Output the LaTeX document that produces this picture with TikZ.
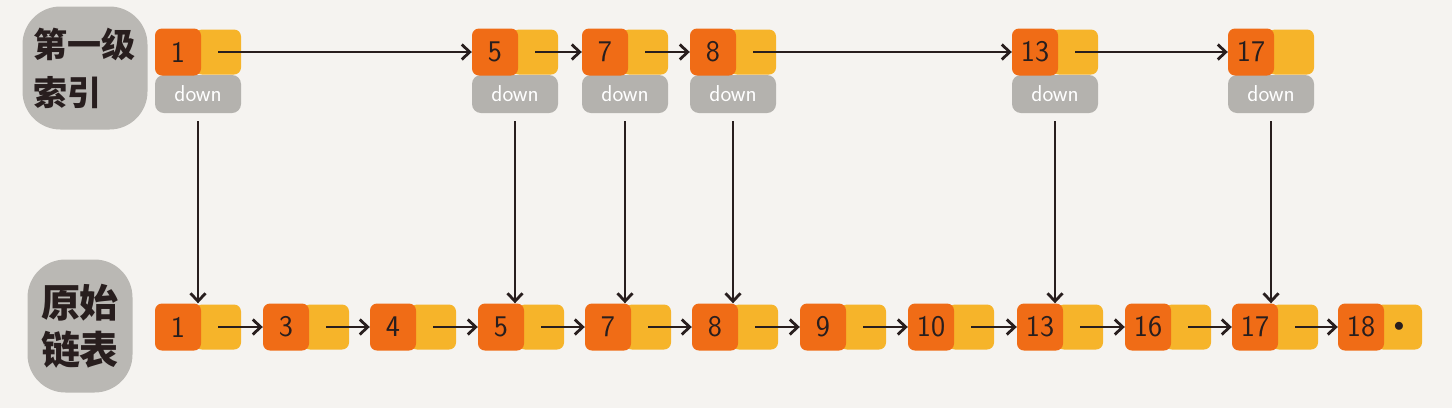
\documentclass[tikz,border=0pt]{standalone}
\usepackage{fontspec}
\newfontfamily\cjkfont{Noto Sans CJK SC}
\usetikzlibrary{arrows.meta}
\definecolor{keyorange}{RGB}{240,108,22}
\definecolor{nextyellow}{RGB}{246,180,42}
\definecolor{downgrey}{RGB}{180,178,174}
\definecolor{blobgrey}{RGB}{186,184,180}
\definecolor{paper}{RGB}{245,243,240}
\definecolor{ink}{RGB}{40,30,30}

\begin{document}
\begin{tikzpicture}[x=1pt,y=-1pt,
    keybox/.style={rectangle,rounded corners=7pt,fill=keyorange,minimum width=46pt,minimum height=47pt,inner sep=0pt,text=ink,font=\sffamily\fontsize{30}{30}\selectfont},
    nextbox/.style={rectangle,rounded corners=7pt,fill=nextyellow,minimum width=46pt,minimum height=45pt,inner sep=0pt,text=ink},
    downbox/.style={rectangle,rounded corners=9pt,fill=downgrey,minimum width=86pt,minimum height=38pt,inner sep=0pt,text=white,font=\sffamily\fontsize{23}{23}\selectfont},
    blob/.style={rectangle,rounded corners=38pt,fill=blobgrey,inner sep=0pt,align=left,text=ink},
    link/.style={draw=ink,line width=2.8pt,-{Straight Barb[length=8pt,width=15pt]}}]

    \fill[paper] (0,0) rectangle (1452,408);

    % labels on the left
    \node[blob,minimum width=125pt,minimum height=123pt,font=\cjkfont\bfseries\fontsize{34}{48}\selectfont] (lvl1) at (85,68) {第一级\\索引};
    \node[blob,minimum width=105pt,minimum height=133pt,font=\cjkfont\bfseries\fontsize{39}{47}\selectfont] (raw) at (80,326) {原始\\链表};

    % first-level index
    \node[downbox] (down1) at (198,94) {down};
    \node[downbox] (down5) at (515,94) {down};
    \node[downbox] (down7) at (625,94) {down};
    \node[downbox] (down8) at (733,94) {down};
    \node[downbox] (down13) at (1055,94) {down};
    \node[downbox] (down17) at (1271,94) {down};

    \node[nextbox] (top1n) at (218,52) {};
    \node[keybox] (top1) at (178,52) {1};
    \node[nextbox] (top5n) at (535,52) {};
    \node[keybox] (top5) at (495,52) {5};
    \node[nextbox] (top7n) at (645,52) {};
    \node[keybox] (top7) at (605,52) {7};
    \node[nextbox] (top8n) at (753,52) {};
    \node[keybox] (top8) at (713,52) {8};
    \node[nextbox] (top13n) at (1075,52) {};
    \node[keybox] (top13) at (1035,52) {13};
    \node[nextbox] (top17n) at (1291,52) {};
    \node[keybox] (top17) at (1251,52) {17};

    % original linked list
    \node[nextbox] (raw1n) at (218,327) {};
    \node[keybox] (raw1) at (178,327) {1};
    \node[nextbox] (raw3n) at (326,327) {};
    \node[keybox] (raw3) at (286,327) {3};
    \node[nextbox] (raw4n) at (433,327) {};
    \node[keybox] (raw4) at (393,327) {4};
    \node[nextbox] (raw5n) at (541,327) {};
    \node[keybox] (raw5) at (501,327) {5};
    \node[nextbox] (raw7n) at (648,327) {};
    \node[keybox] (raw7) at (608,327) {7};
    \node[nextbox] (raw8n) at (755,327) {};
    \node[keybox] (raw8) at (715,327) {8};
    \node[nextbox] (raw9n) at (863,327) {};
    \node[keybox] (raw9) at (823,327) {9};
    \node[nextbox] (raw10n) at (971,327) {};
    \node[keybox] (raw10) at (931,327) {10};
    \node[nextbox] (raw13n) at (1080,327) {};
    \node[keybox] (raw13) at (1040,327) {13};
    \node[nextbox] (raw16n) at (1188,327) {};
    \node[keybox] (raw16) at (1148,327) {16};
    \node[nextbox] (raw17n) at (1295,327) {};
    \node[keybox] (raw17) at (1255,327) {17};
    \node[nextbox,font=\fontsize{20}{20}\selectfont] (raw18n) at (1399,327) {$\bullet$};
    \node[keybox] (raw18) at (1361,327) {18};

    % next pointers, index level
    \draw[link] (top1n.center) -- (top5.west);
    \draw[link] (top5n.center) -- (top7.west);
    \draw[link] (top7n.center) -- (top8.west);
    \draw[link] (top8n.center) -- (top13.west);
    \draw[link] (top13n.center) -- (top17.west);

    % next pointers, list
    \draw[link] (raw1n.center) -- (raw3.west);
    \draw[link] (raw3n.center) -- (raw4.west);
    \draw[link] (raw4n.center) -- (raw5.west);
    \draw[link] (raw5n.center) -- (raw7.west);
    \draw[link] (raw7n.center) -- (raw8.west);
    \draw[link] (raw8n.center) -- (raw9.west);
    \draw[link] (raw9n.center) -- (raw10.west);
    \draw[link] (raw10n.center) -- (raw13.west);
    \draw[link] (raw13n.center) -- (raw16.west);
    \draw[link] (raw16n.center) -- (raw17.west);
    \draw[link] (raw17n.center) -- (raw18.west);

    % down pointers
    \draw[link,shorten <=8pt] (down1.south) -- (down1.south |- raw1.north);
    \draw[link,shorten <=8pt] (down5.south) -- (down5.south |- raw5.north);
    \draw[link,shorten <=8pt] (down7.south) -- (down7.south |- raw7.north);
    \draw[link,shorten <=8pt] (down8.south) -- (down8.south |- raw8.north);
    \draw[link,shorten <=8pt] (down13.south) -- (down13.south |- raw13.north);
    \draw[link,shorten <=8pt] (down17.south) -- (down17.south |- raw17.north);
\end{tikzpicture}
\end{document}
